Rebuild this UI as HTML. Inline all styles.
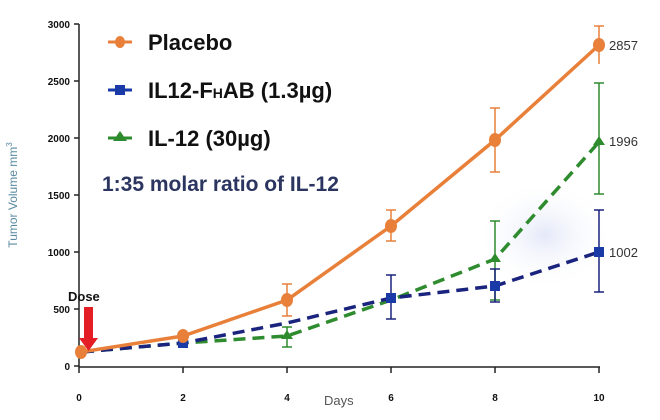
<!DOCTYPE html><html><head><style>body{margin:0;background:#fff}svg{display:block}</style></head><body>
<svg width="660" height="420" xmlns="http://www.w3.org/2000/svg" font-family="Liberation Sans, sans-serif">
<defs><radialGradient id="g"><stop offset="0" stop-color="#e4e9f8"/><stop offset="1" stop-color="#fff" stop-opacity="0"/></radialGradient></defs>
<rect width="660" height="420" fill="#fff"/>
<ellipse cx="545" cy="235" rx="70" ry="55" fill="url(#g)"/>
<g stroke="#222" stroke-width="1.5">
<line x1="79" y1="24" x2="79" y2="367"/><line x1="79" y1="367" x2="600" y2="367"/>
<line x1="74" y1="24" x2="79" y2="24"/><line x1="74" y1="81" x2="79" y2="81"/><line x1="74" y1="138" x2="79" y2="138"/><line x1="74" y1="195" x2="79" y2="195"/><line x1="74" y1="252" x2="79" y2="252"/><line x1="74" y1="309" x2="79" y2="309"/><line x1="74" y1="366" x2="79" y2="366"/>
<line x1="79" y1="367" x2="79" y2="373"/><line x1="183" y1="367" x2="183" y2="373"/><line x1="287" y1="367" x2="287" y2="373"/><line x1="391" y1="367" x2="391" y2="373"/><line x1="495" y1="367" x2="495" y2="373"/><line x1="599" y1="367" x2="599" y2="373"/>
</g>
<g font-size="10" font-weight="bold" text-anchor="end" fill="#111">
<text x="70" y="28">3000</text><text x="70" y="85">2500</text><text x="70" y="142">2000</text><text x="70" y="199">1500</text><text x="70" y="256">1000</text><text x="70" y="313">500</text><text x="70" y="370">0</text>
</g>
<g font-size="10" font-weight="bold" text-anchor="middle" fill="#111">
<text x="79" y="401">0</text><text x="183" y="401">2</text><text x="287" y="401">4</text><text x="391" y="401">6</text><text x="495" y="401">8</text><text x="599" y="401">10</text>
</g>
<text x="324" y="405" font-size="13" fill="#555">Days</text>
<text transform="translate(17,195) rotate(-90)" font-size="12" fill="#5a8aa0" text-anchor="middle">Tumor Volume mm<tspan dy="-5" font-size="8">3</tspan></text>
<!-- green -->
<g stroke="#2e8b2e" stroke-width="1.5"><line x1="287" y1="327" x2="287" y2="347"/><line x1="282" y1="327" x2="292" y2="327"/><line x1="282" y1="347" x2="292" y2="347"/>
<line x1="495" y1="221" x2="495" y2="300"/><line x1="490" y1="221" x2="500" y2="221"/><line x1="490" y1="300" x2="500" y2="300"/>
<line x1="599" y1="83" x2="599" y2="194"/><line x1="594" y1="83" x2="604" y2="83"/><line x1="594" y1="194" x2="604" y2="194"/></g>
<polyline points="82,352 183,343 287,336 391,300 495,259 599,142" fill="none" stroke="#2e8b2e" stroke-width="3.5" stroke-dasharray="12,7"/>
<g fill="#2e8b2e"><path d="M287,330 l6,9 h-12z"/><path d="M495,253 l6,9 h-12z"/><path d="M599,136 l6,9 h-12z"/></g>
<!-- blue -->
<g stroke="#1a237e" stroke-width="1.5"><line x1="391" y1="275" x2="391" y2="319"/><line x1="386" y1="275" x2="396" y2="275"/><line x1="386" y1="319" x2="396" y2="319"/>
<line x1="495" y1="269" x2="495" y2="302"/><line x1="490" y1="269" x2="500" y2="269"/><line x1="490" y1="302" x2="500" y2="302"/>
<line x1="599" y1="210" x2="599" y2="292"/><line x1="594" y1="210" x2="604" y2="210"/><line x1="594" y1="292" x2="604" y2="292"/></g>
<polyline points="82,352 183,343 287,323 391,298 495,286 599,252" fill="none" stroke="#1a237e" stroke-width="3.5" stroke-dasharray="12,7"/>
<g fill="#1a3aa8"><rect x="386" y="293" width="10" height="10"/><rect x="490" y="281" width="10" height="10"/><rect x="594" y="247" width="10" height="10"/><rect x="178" y="338" width="10" height="10"/></g>
<!-- placebo -->
<g stroke="#e8803a" stroke-width="1.5"><line x1="287" y1="284" x2="287" y2="316"/><line x1="282" y1="284" x2="292" y2="284"/><line x1="282" y1="316" x2="292" y2="316"/>
<line x1="391" y1="210" x2="391" y2="241"/><line x1="386" y1="210" x2="396" y2="210"/><line x1="386" y1="241" x2="396" y2="241"/>
<line x1="495" y1="108" x2="495" y2="172"/><line x1="490" y1="108" x2="500" y2="108"/><line x1="490" y1="172" x2="500" y2="172"/>
<line x1="599" y1="26" x2="599" y2="64"/><line x1="594" y1="26" x2="604" y2="26"/></g>
<polyline points="81,352 183,336 287,300 391,226 495,140 599,45" fill="none" stroke="#e8803a" stroke-width="3.5"/>
<g fill="#e8803a"><ellipse cx="81" cy="352" rx="6" ry="7"/><ellipse cx="183" cy="336" rx="6" ry="7"/><ellipse cx="287" cy="300" rx="6" ry="7"/><ellipse cx="391" cy="226" rx="6" ry="7"/><ellipse cx="495" cy="140" rx="6" ry="7"/><ellipse cx="599" cy="45" rx="6" ry="7"/></g>
<!-- labels -->
<g font-size="13" fill="#333"><text x="609" y="50">2857</text><text x="609" y="146">1996</text><text x="609" y="257">1002</text></g>
<!-- dose -->
<text x="68" y="301" font-size="13" font-weight="bold" fill="#111">Dose</text>
<rect x="84" y="307" width="9" height="33" fill="#e31e24"/><path d="M79,338 h19 l-9.5,13z" fill="#e31e24"/>
<!-- legend -->
<line x1="108" y1="42" x2="132" y2="42" stroke="#e8803a" stroke-width="3"/><ellipse cx="120" cy="42" rx="5" ry="6" fill="#e8803a"/>
<text x="148" y="50" font-size="22" font-weight="bold" fill="#111">Placebo</text>
<line x1="108" y1="90" x2="132" y2="90" stroke="#1a3aa8" stroke-width="3"/><rect x="115" y="85" width="10" height="10" fill="#1a3aa8"/>
<text x="148" y="98" font-size="22" font-weight="bold" fill="#111">IL12-F<tspan font-size="14">H</tspan>AB (1.3µg)</text>
<line x1="108" y1="138" x2="132" y2="138" stroke="#2e8b2e" stroke-width="3"/><path d="M120,131 l7,10 h-14z" fill="#2e8b2e"/>
<text x="148" y="146" font-size="22" font-weight="bold" fill="#111">IL-12 (30µg)</text>
<text x="102" y="191" font-size="21" font-weight="bold" fill="#2b3560">1:35 molar ratio of IL-12</text>
</svg></body></html>
